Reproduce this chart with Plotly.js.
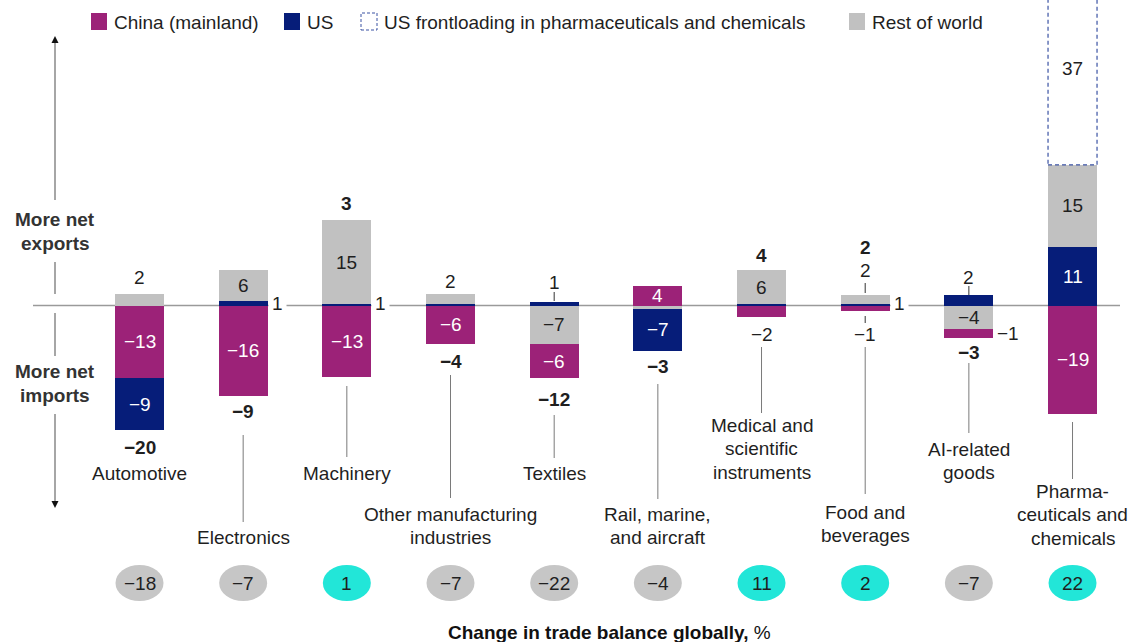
<!DOCTYPE html>
<html><head><meta charset="utf-8">
<script src="https://cdn.plot.ly/plotly-3.0.1.min.js"></script>
<style>html,body{margin:0;padding:0;background:#fff;}#chart{width:1146px;height:642px;}</style>
</head><body><div id="chart"></div>
<script>
// ---------------- DATA ----------------
const categories = ['Automotive','Electronics','Machinery','Other manufacturing industries','Textiles',
  'Rail, marine, and aircraft','Medical and scientific instruments','Food and beverages','AI-related goods','Pharmaceuticals and chemicals'];
const categoryLines = ['Automotive','Electronics','Machinery','Other manufacturing<br>industries','Textiles',
  'Rail, marine,<br>and aircraft','Medical and<br>scientific<br>instruments','Food and<br>beverages','AI-related<br>goods','Pharma-<br>ceuticals and<br>chemicals'];
// drawn segment sizes
const china        = [-12.9, -16.0, -12.7, -6.8, -6.1,  3.5, -2.1, -1.0, -1.7, -19.2];
const us           = [ -9.1,   0.8,   0.2,  0.2,  0.7, -7.4,  0.2,  0.2,  1.8,  10.4];
const restOfWorld  = [  2.0,   5.4,  14.9,  1.8, -6.8, -0.6,  6.1,  1.6, -4.1,  14.5];
const frontloading = [  0,     0,     0,    0,    0,    0,    0,    0,    0,    37  ];
// printed labels
const chinaLabel   = [-13, -16, -13, -6, -6, 4, -2, -1, -1, -19];
const usLabel      = [ -9,   1,   1, null, 1, -7, null, 1, 2, 11];
const rowLabel     = [  2,   6,  15,  2, -7, null, 6, 2, -4, 15];
const frontLabel   = [null,null,null,null,null,null,null,null,null,37];
const totalLabel   = [-20, -9, 3, -4, -12, -3, 4, 2, -3, null];
const globalChange = [-18, -7, 1, -7, -22, -4, 11, 2, -7, 22];

// ---------------- LAYOUT / STYLE ----------------
const W = 1146, H = 642;
const ZERO = 305.5, K = 5.65;           // zero line pixel, px per unit
const X0PX = 139.5, STEP = 103.67, BARW = 49;
const xr0 = -X0PX / STEP, xr1 = xr0 + W / STEP;
const yr = [(ZERO - H) / K, ZERO / K];
const bw = BARW / STEP;
const P = p => 1 - p / H;
const PXx = p => p / W;
const F = 'Liberation Sans, Arial, Helvetica, sans-serif';
const FS = 19;
const DARK = '#1f1f1f';
const C_CHINA = '#9c2278', C_US = '#061d79', C_ROW = '#c1c1c1', C_FRONT = '#3a52a3';
const C_NEG = '#c6c6c6', C_POS = '#22e6d8';
const LINE = '#7a7a7a';

const idx = categories.map((_, i) => i);
const pos = a => a.map(v => v > 0 ? v : null);
const neg = a => a.map(v => v < 0 ? v : null);
const mk = (y, color) => ({type:'bar', x:idx, y, width:bw, marker:{color, line:{width:0}},
  showlegend:false, hoverinfo:'skip', cliponaxis:true});

const traces = [
  mk(pos(china), C_CHINA), mk(pos(us), C_US), mk(pos(restOfWorld), C_ROW), mk(pos(frontloading), 'rgba(0,0,0,0)'),
  mk(neg(restOfWorld), C_ROW), mk(neg(china), C_CHINA), mk(neg(us), C_US)
];

// stack extents (same order as traces)
const seg = idx.map(i => {
  let p = 0, n = 0; const s = {};
  [['china', china], ['us', us], ['row', restOfWorld], ['front', frontloading]].forEach(([k, a]) => {
    if (a[i] > 0) { s[k] = {lo:p, hi:p + a[i]}; p += a[i]; }
  });
  [['row', restOfWorld], ['china', china], ['us', us]].forEach(([k, a]) => {
    if (a[i] < 0) { s[k] = {hi:n, lo:n + a[i]}; n += a[i]; }
  });
  s.top = p; s.bottom = n; return s;
});
const fmt = v => v < 0 ? '\u2212' + Math.abs(v) : String(v);

const ann = [];
function add(i, y, text, shift, o = {}) {
  ann.push(Object.assign({x:i, xref:'x', y, yref:'y', yshift:shift, text, showarrow:false,
    font:{family:F, size:FS, color:o.color || DARK}, xanchor:'center', yanchor:'middle'}, o.extra || {}));
}
const lab = {china:chinaLabel, us:usLabel, row:rowLabel, front:frontLabel};
function inside(i, k, shift = 0) {
  const s = seg[i][k];
  add(i, (s.lo + s.hi) / 2, fmt(lab[k][i]), shift, {color:(k === 'china' || k === 'us') ? '#ffffff' : DARK});
}
const bold = v => '<b>' + fmt(v) + '</b>';
function right(i, k, mask) {
  const s = seg[i][k];
  const y = mask ? 0 : (s.lo + s.hi) / 2;
  add(i + bw / 2, y, fmt(lab[k][i]), mask ? 2 : 0,
    {extra: mask ? {xanchor:'left', bgcolor:'#ffffff', borderpad:3} : {xanchor:'left', xshift:2}});
}

// Automotive
add(0, seg[0].top, fmt(rowLabel[0]), 17); inside(0, 'china'); inside(0, 'us'); add(0, seg[0].bottom, bold(totalLabel[0]), -18);
// Electronics
inside(1, 'row'); right(1, 'us', true); inside(1, 'china'); add(1, seg[1].bottom, bold(totalLabel[1]), -16);
// Machinery
add(2, seg[2].top, bold(totalLabel[2]), 17); inside(2, 'row'); right(2, 'us', true); inside(2, 'china');
// Other manufacturing
add(3, seg[3].top, fmt(rowLabel[3]), 13); inside(3, 'china'); add(3, seg[3].bottom, bold(totalLabel[3]), -18);
// Textiles
add(4, seg[4].top, fmt(usLabel[4]), 19); inside(4, 'row'); inside(4, 'china'); add(4, seg[4].bottom, bold(totalLabel[4]), -21);
// Rail
inside(5, 'china'); inside(5, 'us'); add(5, seg[5].bottom, bold(totalLabel[5]), -16);
// Medical
add(6, seg[6].top, bold(totalLabel[6]), 14); inside(6, 'row'); add(6, seg[6].bottom, fmt(chinaLabel[6]), -17);
// Food
add(7, seg[7].top, bold(totalLabel[7]), 48); add(7, seg[7].top, fmt(rowLabel[7]), 25); right(7, 'us', true);
add(7, seg[7].bottom, fmt(chinaLabel[7]), -23);
// AI
add(8, seg[8].top, fmt(usLabel[8]), 18); inside(8, 'row'); right(8, 'china', false); add(8, seg[8].bottom, bold(totalLabel[8]), -14);
// Pharma
inside(9, 'front', -8); inside(9, 'row'); inside(9, 'us'); inside(9, 'china');

// category labels (first-line centre, px) and connectors (px)
const labelTop = [473, 537, 473, 514, 473, 514, 425, 512, 449, 491];
const connectors = [null, [435, 522], [386, 457], [375, 498], [415, 458], [384, 499], [347, 413], [347, 494], [363, 433], [422, 479]];
const LH = 23.5;
const shapes = [];
idx.forEach(i => {
  categoryLines[i].split('<br>').forEach((line, j) => {
    ann.push({x:i, xref:'x', y:P(labelTop[i] + j * LH), yref:'paper', text:line, showarrow:false,
      font:{family:F, size:FS, color:DARK}, xanchor:'center', yanchor:'middle', align:'center'});
  });
  if (connectors[i]) shapes.push({type:'line', xref:'x', x0:i, x1:i, yref:'paper', y0:P(connectors[i][0]), y1:P(connectors[i][1]),
    line:{color:LINE, width:1}});
  // global change ovals
  shapes.push({type:'circle', xref:'x', x0:i - 24 / STEP, x1:i + 24 / STEP, yref:'paper', y0:P(601), y1:P(565),
    fillcolor: globalChange[i] > 0 ? C_POS : C_NEG, line:{width:0}});
  ann.push({x:i, xref:'x', y:P(583), yref:'paper', text:fmt(globalChange[i]), showarrow:false,
    font:{family:F, size:FS, color:DARK}, xanchor:'center', yanchor:'middle'});
  // frontloading dashed outline
  if (seg[i].front) shapes.push({type:'rect', xref:'x', x0:i - bw / 2, x1:i + bw / 2, yref:'y', y0:seg[i].front.lo, y1:seg[i].front.hi,
    line:{color:C_FRONT, width:1.2, dash:'4px,3px'}, fillcolor:'rgba(0,0,0,0)'});
});
// zero line
shapes.push({type:'line', xref:'paper', x0:PXx(33), x1:PXx(1120), yref:'y', y0:0, y1:0, line:{color:'#9a9a9a', width:1.5}, layer:'below'});
// small ticks
[[4, 292, 301], [7, 283, 293], [7, 316, 323], [8, 286, 295]].forEach(([i, a, b]) =>
  shapes.push({type:'line', xref:'x', x0:i, x1:i, yref:'paper', y0:P(a), y1:P(b), line:{color:'#333', width:1}}));
// left arrows
const AX = PXx(55);
[[40, 200], [262, 294], [313, 356], [414, 504]].forEach(([a, b]) =>
  shapes.push({type:'line', xref:'paper', yref:'paper', x0:AX, x1:AX, y0:P(a), y1:P(b), line:{color:'#888', width:1.5}}));
const tri = (tip, base) => `M ${PXx(55)},${P(tip)} L ${PXx(51.5)},${P(base)} L ${PXx(58.5)},${P(base)} Z`;
shapes.push({type:'path', xref:'paper', yref:'paper', path:tri(36, 43), fillcolor:'#111', line:{width:0}});
shapes.push({type:'path', xref:'paper', yref:'paper', path:tri(508, 501), fillcolor:'#111', line:{width:0}});
[['More net', 219], ['exports', 243], ['More net', 372], ['imports', 395]].forEach(([t, y]) =>
  ann.push({x:AX, xref:'paper', y:P(y), yref:'paper', text:'<b>' + t + '</b>', showarrow:false,
    font:{family:F, size:FS, color:'#333'}, xanchor:'center', yanchor:'middle', bgcolor:'#fff'}));

// legend
const legendItems = [
  {name:'China (mainland)', x:91, fill:C_CHINA},
  {name:'US', x:284, fill:C_US},
  {name:'US frontloading in pharmaceuticals and chemicals', x:361, fill:null},
  {name:'Rest of world', x:849, fill:C_ROW}
];
legendItems.forEach(it => {
  shapes.push({type:'rect', xref:'paper', yref:'paper', x0:PXx(it.x), x1:PXx(it.x + 16), y0:P(30), y1:P(13),
    fillcolor: it.fill || 'rgba(0,0,0,0)',
    line: it.fill ? {width:0} : {color:C_FRONT, width:1, dash:'3px,2px'}});
  ann.push({x:PXx(it.x + 21), xref:'paper', y:P(22), yref:'paper', text:it.name, showarrow:false,
    font:{family:F, size:FS, color:DARK}, xanchor:'left', yanchor:'middle'});
});
// bottom title
ann.push({x:PXx(609), xref:'paper', y:P(632), yref:'paper', text:'<b>Change in trade balance globally,</b> %', showarrow:false,
  font:{family:F, size:FS, color:'#111'}, xanchor:'center', yanchor:'middle'});

const layout = {
  width:W, height:H, margin:{l:0, r:0, t:0, b:0, pad:0},
  paper_bgcolor:'#ffffff', plot_bgcolor:'#ffffff',
  barmode:'relative', bargap:0, showlegend:false,
  xaxis:{range:[xr0, xr1], visible:false, fixedrange:true},
  yaxis:{range:yr, visible:false, fixedrange:true},
  shapes, annotations:ann, font:{family:F, size:FS, color:DARK}
};
Plotly.newPlot('chart', traces, layout, {displayModeBar:false, staticPlot:true});
</script></body></html>
